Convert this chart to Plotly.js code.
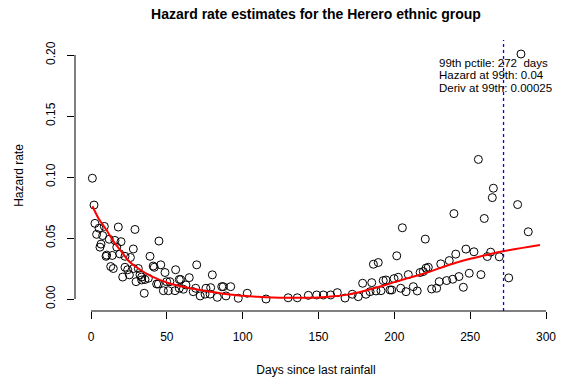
<!DOCTYPE html>
<html>
<head>
<meta charset="utf-8">
<script src="https://cdn.plot.ly/plotly-3.0.1.min.js"></script>
<style>html,body{margin:0;padding:0;background:#fff;}#chart{width:562px;height:381px;}</style>
</head>
<body>
<div id="chart"></div>
<script>
// Observed hazard rate estimates (days since last rainfall, hazard rate)
const obsDays = [0.9,2,2.6,3.7,5.3,5.9,6.6,7.7,8.8,9.9,10.3,12,13,14,14.7,15.8,17,18,19,19.8,20.9,22.4,22.4,24.2,25.3,26,27.9,28,29,29.7,31.2,32.3,33.4,33.4,35.1,35.6,37.8,38.9,41,41.7,43.3,44.4,44.8,46,47.7,48.8,49.9,51,52,55.4,55.8,58.2,58.2,59.1,60.9,62.6,64.8,67.4,69,69.7,72,75.2,75.8,78.5,78.9,80,83.3,86.2,87.2,89,92.1,97.1,103,115.4,130,136,143.3,148.8,153.2,158,162.4,167.5,172.3,176.2,179.1,181.3,184,185.1,186.2,187.9,189.4,191.2,192.7,194.5,197.1,198.3,199.8,201.6,202.6,204.2,205.3,207.7,209.2,212.5,215.1,217,219.1,220.4,220.9,222.4,224.6,227.9,229.6,230.6,234.5,236.2,238.5,239.3,240.5,242.6,245.5,247.2,249.4,252.5,255.4,257.1,259.3,261.3,263.5,264.6,265.3,269.2,275.4,281.3,283.5,288.3];
const obsHazard = [0.099,0.077,0.062,0.053,0.058,0.0425,0.045,0.052,0.0595,0.035,0.036,0.049,0.0266,0.0357,0.025,0.048,0.0425,0.059,0.037,0.047,0.018,0.035,0.026,0.024,0.0198,0.034,0.041,0.025,0.057,0.0142,0.025,0.0198,0.018,0.0156,0.0047,0.016,0.017,0.035,0.027,0.026,0.0123,0.0123,0.0475,0.028,0.0068,0.0217,0.0142,0.0068,0.0142,0.0068,0.024,0.016,0.0088,0.016,0.008,0.0115,0.0175,0.006,0.0088,0.028,0.0025,0.004,0.0088,0.004,0.0093,0.0198,0.0014,0.0101,0.0101,0.0025,0.0101,0.0006,0.0047,0.0,0.001,0.001,0.003,0.0033,0.0033,0.0033,0.0052,0.0008,0.0039,0.0019,0.0129,0.0039,0.006,0.0134,0.0285,0.0066,0.0299,0.0068,0.0151,0.0156,0.0074,0.0074,0.0167,0.0354,0.0178,0.0088,0.0584,0.006,0.02,0.0101,0.0066,0.0217,0.0225,0.0491,0.0253,0.026,0.0082,0.0088,0.0142,0.0288,0.0151,0.0315,0.0162,0.07,0.0368,0.0184,0.0096,0.0409,0.0211,0.0387,0.1144,0.02,0.066,0.0348,0.0384,0.0831,0.0908,0.0346,0.0173,0.0774,0.2008,0.0551];

// Smoothed hazard curve
const fitDays = [1,5,10,15,20,25,30,40,50,60,70,80,90,100,110,120,130,140,150,160,170,180,190,200,210,220,230,240,250,260,270,280,290,296];
const fitHazard = [0.076,0.066,0.057,0.047,0.039,0.031,0.026,0.0185,0.0135,0.0102,0.0078,0.0058,0.0038,0.0027,0.0018,0.0012,0.001,0.001,0.0012,0.0022,0.0038,0.0066,0.0100,0.0138,0.0175,0.021,0.0253,0.0295,0.033,0.0358,0.0388,0.041,0.043,0.0442];

// 99th percentile summary
const pctile99 = 272;
const hazardAt99 = 0.04;
const derivAt99 = 0.00025;

const xTicks = [0,50,100,150,200,250,300];
const yTicks = [0,0.05,0.10,0.15,0.20];
const yTickLabels = ['0.00','0.05','0.10','0.15','0.20'];

const fontFam = '"Liberation Sans", Arial, Helvetica, sans-serif';

const traces = [
  {
    x: obsDays, y: obsHazard, type: 'scatter', mode: 'markers',
    marker: {symbol: 'circle-open', size: 8, color: '#000', line: {width: 1, color: '#000'}},
    hoverinfo: 'skip', showlegend: false
  },
  {
    x: fitDays, y: fitHazard, type: 'scatter', mode: 'lines',
    line: {color: '#ff0000', width: 2, shape: 'spline'},
    hoverinfo: 'skip', showlegend: false
  }
];

const layout = {
  width: 562, height: 381,
  margin: {l: 75, r: 5, t: 40, b: 70},
  paper_bgcolor: '#fff', plot_bgcolor: '#fff',
  font: {family: fontFam, size: 12, color: '#000'},
  title: {text: '<b>Hazard rate estimates for the Herero ethnic group</b>',
          font: {family: fontFam, size: 14, color: '#000'},
          x: 316/562, xanchor: 'center', y: 1 - 14/381, yanchor: 'middle'},
  xaxis: {
    range: [-10.55, 307.25], showgrid: false, zeroline: false, showline: false,
    tickmode: 'array', tickvals: xTicks, ticktext: xTicks.map(String),
    ticks: 'outside', ticklen: 7, tickwidth: 1, tickcolor: '#000',
    ticklabelstandoff: 8,
    tickfont: {size: 12, color: '#000'},
    title: {text: 'Days since last rainfall', font: {size: 12, color: '#000'}, standoff: 22}
  },
  yaxis: {
    range: [-0.00984, 0.2123], showgrid: false, zeroline: false, showline: false,
    tickmode: 'array', tickvals: yTicks, ticktext: yTickLabels, tickangle: -90,
    ticks: 'outside', ticklen: 7, tickwidth: 1, tickcolor: '#000',
    ticklabelstandoff: 7,
    tickfont: {size: 12, color: '#000'},
    title: {text: 'Hazard rate', font: {size: 12, color: '#000'}, standoff: 18}
  },
  shapes: [
    {type: 'line', xref: 'x', yref: 'paper', x0: xTicks[0], x1: xTicks[xTicks.length-1], y0: 0, y1: 0,
     line: {color: '#000', width: 1}},
    {type: 'line', xref: 'paper', yref: 'y', x0: 0, x1: 0, y0: yTicks[0], y1: yTicks[yTicks.length-1],
     line: {color: '#000', width: 1}},
    {type: 'line', xref: 'x', yref: 'paper', x0: pctile99, x1: pctile99, y0: 0, y1: 1,
     line: {color: 'rgb(0,0,255)', width: 1.3, dash: '3px,3px'}}
  ],
  annotations: [
    {xref: 'paper', yref: 'paper', x: (437-75)/482, y: 1 - (62.7-40)/271, xanchor: 'left', yanchor: 'middle',
     text: '99th pctile: ' + pctile99 + '  days', showarrow: false, font: {size: 11.5, color: '#000'}},
    {xref: 'paper', yref: 'paper', x: (437-75)/482, y: 1 - (75-40)/271, xanchor: 'left', yanchor: 'middle',
     text: 'Hazard at 99th: ' + hazardAt99, showarrow: false, font: {size: 11.5, color: '#000'}},
    {xref: 'paper', yref: 'paper', x: (437-75)/482, y: 1 - (87.7-40)/271, xanchor: 'left', yanchor: 'middle',
     text: 'Deriv at 99th: ' + derivAt99, showarrow: false, font: {size: 11.5, color: '#000'}}
  ]
};

Plotly.newPlot('chart', traces, layout, {staticPlot: true, displayModeBar: false});
</script>
</body>
</html>
